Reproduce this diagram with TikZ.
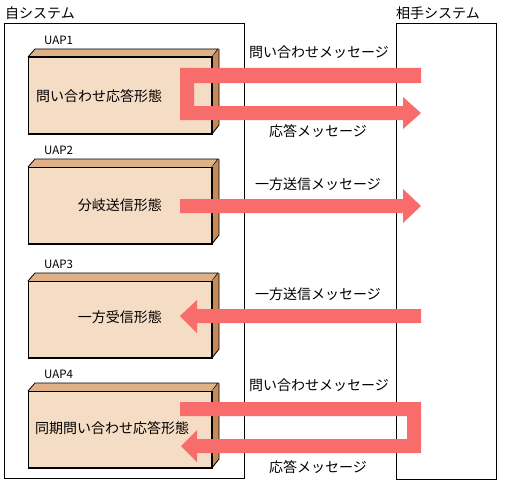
\documentclass[tikz,border=0pt]{standalone}
\usepackage{fontspec}
\setmainfont{Noto Sans CJK JP}
\definecolor{frontc}{RGB}{245,220,197}
\definecolor{topc}{RGB}{222,177,137}
\definecolor{sidec}{RGB}{198,138,89}
\definecolor{arrowc}{RGB}{248,108,108}
\begin{document}
\begin{tikzpicture}[x=1pt,y=-1pt,
  sysbox/.style={draw=black,line width=1pt,fill=white},
  front/.style={draw=black,line width=1pt,fill=frontc,minimum width=183pt,minimum height=76pt,anchor=north west,inner sep=0pt},
  jtext/.style={font=\fontsize{14pt}{15pt}\selectfont,inner sep=0pt},
  uaplabel/.style={font=\fontsize{11.5pt}{12pt}\selectfont,inner sep=0pt,anchor=west},
  band/.style={fill=arrowc,draw=none}
]
\useasboundingbox (0,0) rectangle (522,487);
\fill[white] (0,0) rectangle (522,487);
% systems
\node[sysbox,anchor=north west,minimum width=240pt,minimum height=454pt,inner sep=0pt] (own) at (3.5,23.5) {};
\node[sysbox,anchor=north west,minimum width=100pt,minimum height=455pt,inner sep=0pt] (peer) at (396,23.5) {};
\node[jtext,anchor=west] (ownlbl) at (5,13) {自システム};
\node[jtext,anchor=west] (peerlbl) at (396,13) {相手システム};
% UAP boxes
\foreach \n/\t in {1/57,2/167,3/281,4/391}{
  \node[front] (u\n) at (28,\t) {};
  \fill[topc] (u\n.north west) -- ++(7,-8) -- ++(183,0) -- (u\n.north east) -- cycle;
  \draw[line width=0.8pt] (u\n.north west) -- ++(7,-8) -- ++(183,0) -- (u\n.north east);
  \fill[sidec] (u\n.north east) -- ++(7,-8) -- ++(0,76) -- (u\n.south east) -- cycle;
  \draw[line width=0.8pt] (u\n.north east) ++(7,-8) -- ++(0,76) -- (u\n.south east);
  \draw[line width=1pt] (u\n.north west) rectangle (u\n.south east);
  \node[uaplabel] (ul\n) at (44,\t-17) {UAP\n};
}
\node[jtext,anchor=west] (t1) at (36,96) {問い合わせ応答形態};
\node[jtext,anchor=east] (t2) at (162,205) {分岐送信形態};
\node[jtext,anchor=east] (t3) at (162,317) {一方受信形態};
\node[jtext,anchor=west] (t4) at (35,428) {同期問い合わせ応答形態};
% message labels
\node[jtext] (m1a) at (319,52) {問い合わせメッセージ};
\node[jtext] (m1b) at (318,131) {応答メッセージ};
\node[jtext] (m2) at (318,184) {一方送信メッセージ};
\node[jtext] (m3) at (318,294) {一方送信メッセージ};
\node[jtext] (m4a) at (319,385) {問い合わせメッセージ};
\node[jtext] (m4b) at (318,467) {応答メッセージ};
% arrows
\fill[band] (180,68) -- (421,68) -- (421,83) -- (194,83) -- (194,106) -- (403,106) -- (403,97) -- (421,113) -- (403,129) -- (403,120) -- (180,120) -- cycle;
\fill[band] (180,199) -- (403,199) -- (403,189) -- (421,206) -- (403,223) -- (403,213) -- (180,213) -- cycle;
\fill[band] (421,309) -- (197,309) -- (197,300) -- (180,316) -- (197,333) -- (197,323) -- (421,323) -- cycle;
\fill[band] (180,402) -- (421,402) -- (421,453) -- (197,453) -- (197,462) -- (181,446) -- (197,430) -- (197,439) -- (407,439) -- (407,416) -- (180,416) -- cycle;
\end{tikzpicture}
\end{document}
